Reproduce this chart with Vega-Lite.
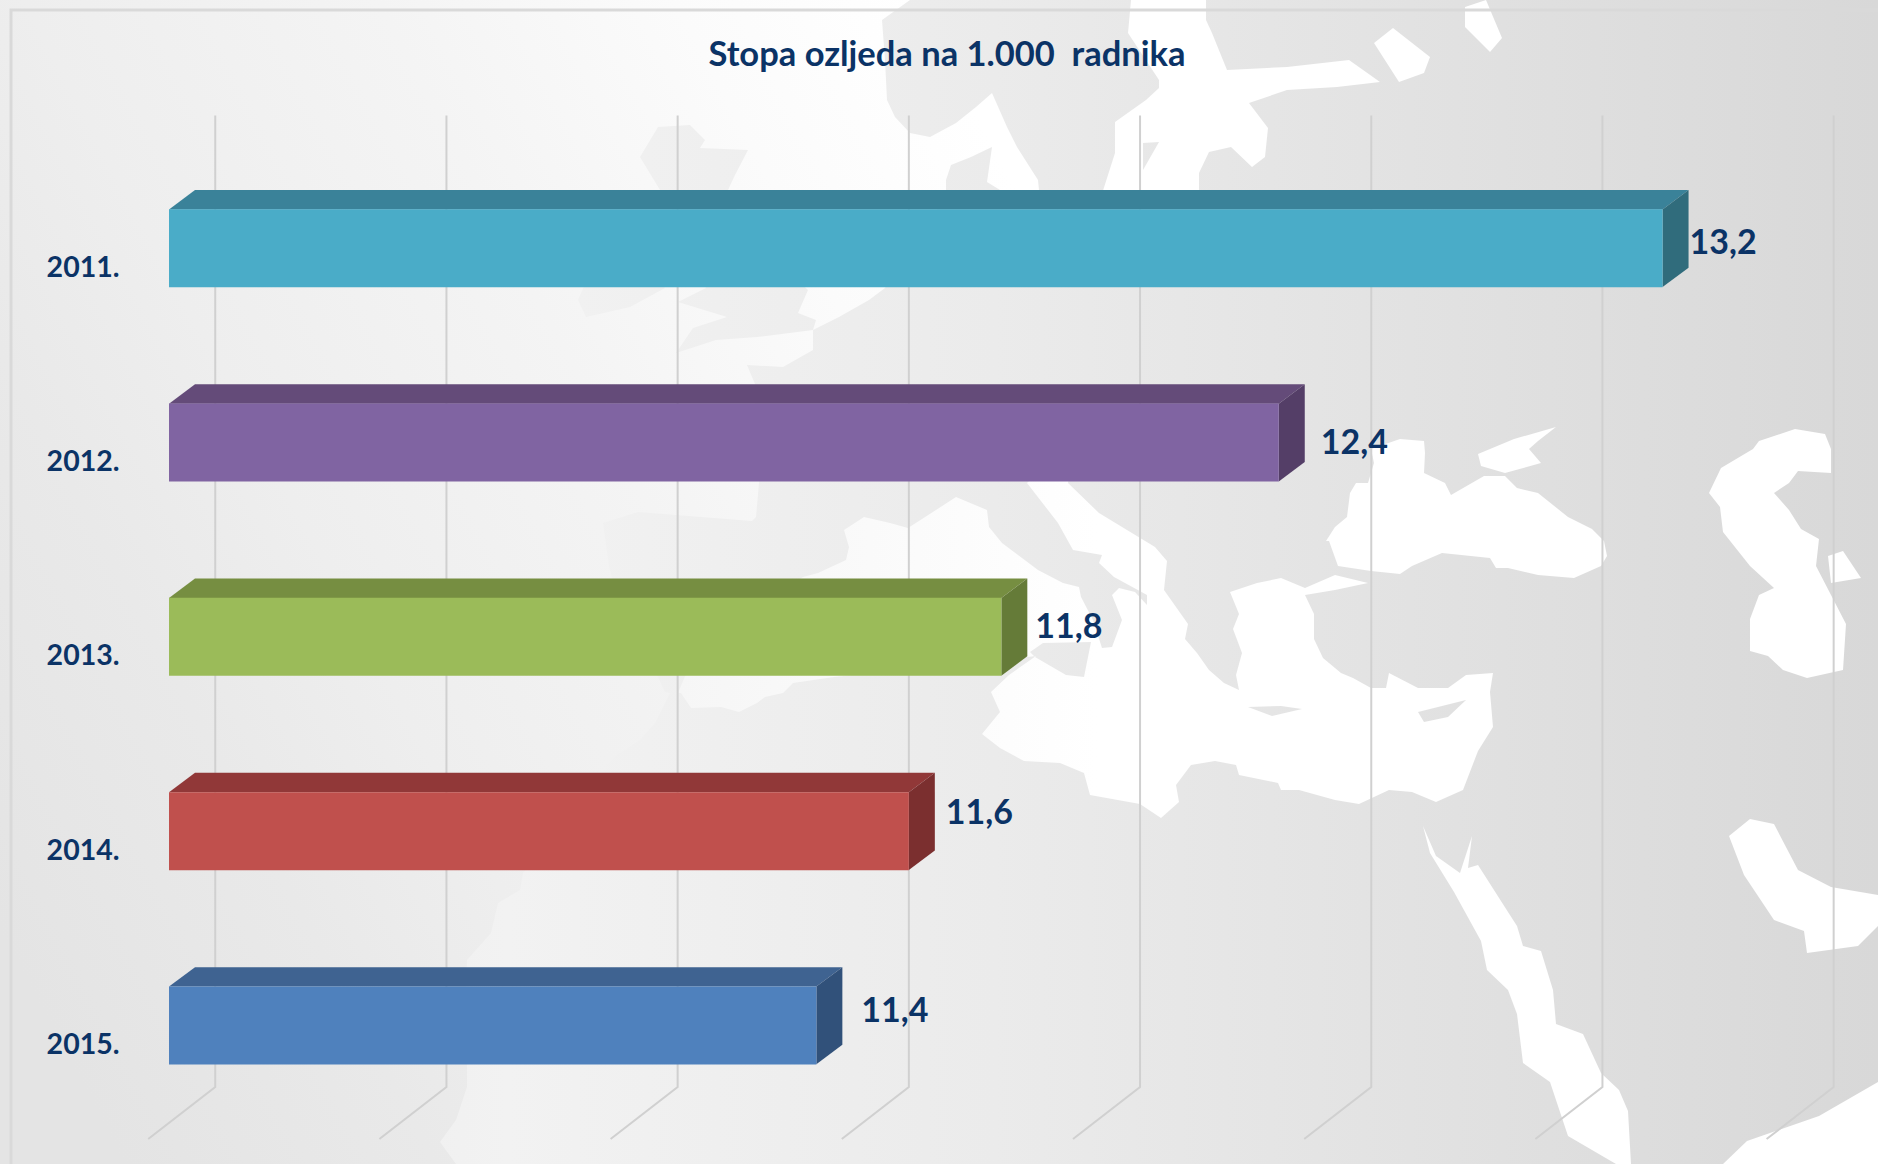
{
"$schema":"https://vega.github.io/schema/vega-lite/v6.json",
"width":1878,"height":1164,"padding":0,"autosize":{"type":"none"},
"background":"#eeeeee",
"title":{"text":"Stopa ozljeda na 1.000\u00a0 radnika","anchor":"middle","frame":"group","orient":"top","offset":-100,"dx":8,"baseline":"alphabetic","font":"Lato","fontWeight":"bold","fontSize":34.5,"color":"#0B3366"},
"config":{"view":{"stroke":null}},
"datasets":{
"bars":[
{"year":2011,"value":13.23,"label":"13,2","ploha":"2011 prednja"},
{"year":2012,"value":12.4,"label":"12,4","ploha":"2012 prednja"},
{"year":2013,"value":11.8,"label":"11,8","ploha":"2013 prednja"},
{"year":2014,"value":11.6,"label":"11,6","ploha":"2014 prednja"},
{"year":2015,"value":11.4,"label":"11,4","ploha":"2015 prednja"}],
"faces":[
{"ploha":"2011 gornja","x":10,"y":2010.8,"y2":2010.8},{"ploha":"2011 gornja","x":10.0562,"y":2010.8,"y2":2010.7},{"ploha":"2011 gornja","x":13.23,"y":2010.8,"y2":2010.7},{"ploha":"2011 gornja","x":13.2862,"y":2010.7,"y2":2010.7},
{"ploha":"2011 bočna","x":13.23,"y":2011.2,"y2":2010.8},{"ploha":"2011 bočna","x":13.2862,"y":2011.1,"y2":2010.7},
{"ploha":"2012 gornja","x":10,"y":2011.8,"y2":2011.8},{"ploha":"2012 gornja","x":10.0562,"y":2011.8,"y2":2011.7},{"ploha":"2012 gornja","x":12.4,"y":2011.8,"y2":2011.7},{"ploha":"2012 gornja","x":12.4562,"y":2011.7,"y2":2011.7},
{"ploha":"2012 bočna","x":12.4,"y":2012.2,"y2":2011.8},{"ploha":"2012 bočna","x":12.4562,"y":2012.1,"y2":2011.7},
{"ploha":"2013 gornja","x":10,"y":2012.8,"y2":2012.8},{"ploha":"2013 gornja","x":10.0562,"y":2012.8,"y2":2012.7},{"ploha":"2013 gornja","x":11.8,"y":2012.8,"y2":2012.7},{"ploha":"2013 gornja","x":11.8562,"y":2012.7,"y2":2012.7},
{"ploha":"2013 bočna","x":11.8,"y":2013.2,"y2":2012.8},{"ploha":"2013 bočna","x":11.8562,"y":2013.1,"y2":2012.7},
{"ploha":"2014 gornja","x":10,"y":2013.8,"y2":2013.8},{"ploha":"2014 gornja","x":10.0562,"y":2013.8,"y2":2013.7},{"ploha":"2014 gornja","x":11.6,"y":2013.8,"y2":2013.7},{"ploha":"2014 gornja","x":11.6562,"y":2013.7,"y2":2013.7},
{"ploha":"2014 bočna","x":11.6,"y":2014.2,"y2":2013.8},{"ploha":"2014 bočna","x":11.6562,"y":2014.1,"y2":2013.7},
{"ploha":"2015 gornja","x":10,"y":2014.8,"y2":2014.8},{"ploha":"2015 gornja","x":10.0562,"y":2014.8,"y2":2014.7},{"ploha":"2015 gornja","x":11.4,"y":2014.8,"y2":2014.7},{"ploha":"2015 gornja","x":11.4562,"y":2014.7,"y2":2014.7},
{"ploha":"2015 bočna","x":11.4,"y":2015.2,"y2":2014.8},{"ploha":"2015 bočna","x":11.4562,"y":2015.1,"y2":2014.7}],
"grid":[
{"g":0,"x":9.955,"y":2015.5846},{"g":0,"x":10.1,"y":2015.3169},{"g":0,"x":10.1,"y":2010.317},
{"g":1,"x":10.455,"y":2015.5846},{"g":1,"x":10.6,"y":2015.3169},{"g":1,"x":10.6,"y":2010.317},
{"g":2,"x":10.955,"y":2015.5846},{"g":2,"x":11.1,"y":2015.3169},{"g":2,"x":11.1,"y":2010.317},
{"g":3,"x":11.455,"y":2015.5846},{"g":3,"x":11.6,"y":2015.3169},{"g":3,"x":11.6,"y":2010.317},
{"g":4,"x":11.955,"y":2015.5846},{"g":4,"x":12.1,"y":2015.3169},{"g":4,"x":12.1,"y":2010.317},
{"g":5,"x":12.455,"y":2015.5846},{"g":5,"x":12.6,"y":2015.3169},{"g":5,"x":12.6,"y":2010.317},
{"g":6,"x":12.955,"y":2015.5846},{"g":6,"x":13.1,"y":2015.3169},{"g":6,"x":13.1,"y":2010.317},
{"g":7,"x":13.455,"y":2015.5846},{"g":7,"x":13.6,"y":2015.3169},{"g":7,"x":13.6,"y":2010.317}]
},
"layer":[
{"data":{"values":[{"type":"Feature","properties":{"name":"kopno"},"geometry":{"type":"Polygon","coordinates":[[[0,0],[1878,0],[1878,1164],[0,1164],[0,0]]]}}]},
"projection":{"type":"identity"},
"mark":{"type":"geoshape","stroke":null,"color":{"gradient":"linear","x1":0,"x2":1,"y1":0,"y2":0,"stops":[{"offset":0,"color":"#e7e7e7"},{"offset":0.27,"color":"#f2f2f2"},{"offset":0.53,"color":"#ebebeb"},{"offset":0.8,"color":"#e0e0e0"},{"offset":1,"color":"#d8d8d8"}]}}},
{"data":{"values":[{"type":"Feature","properties":{"name":"Atlantik"},"geometry":{"type":"Polygon","coordinates":[
[[0,0],[910,0],[882,20],[885,60],[887,100],[895,117],[910,133],[930,137],[956,123],[976,107],[992,93],[1007,127],[1017,147],[1038,180],[1040,200],[1000,200],[1000,190],[987,182],[992,147],[971,157],[951,165],[946,180],[946,200],[900,250],[885,288],[869,300],[839,317],[813,330],[813,350],[783,367],[747,365],[755,384],[755,420],[759,483],[756,517],[752,521],[701,517],[638,512],[603,523],[609,566],[612,578],[620,620],[658,677],[665,692],[670,693],[655,723],[640,740],[614,757],[604,770],[560,830],[523,873],[520,890],[498,903],[491,933],[467,960],[465,1010],[467,1067],[467,1087],[456,1120],[440,1142],[456,1164],[0,1164],[0,0]],
[[660,190],[690,240],[706,288],[678,302],[727,317],[693,328],[676,353],[716,340],[757,337],[813,330],[816,320],[798,313],[808,290],[745,230],[728,190],[735,175],[748,150],[700,148],[705,140],[690,125],[658,127],[640,157],[660,190]],
[[600,250],[578,300],[586,317],[630,307],[665,288],[620,240],[600,250]]
]}}]},
"projection":{"type":"identity"},
"mark":{"type":"geoshape","stroke":null,"color":{"gradient":"linear","x1":0,"x2":1,"y1":0.8,"y2":0.2,"stops":[{"offset":0,"color":"#e4e4e4"},{"offset":0.22,"color":"#e9e9e9"},{"offset":0.37,"color":"#eeeeee"},{"offset":0.62,"color":"#f4f4f4"},{"offset":0.83,"color":"#fbfbfb"},{"offset":1,"color":"#ffffff"}]}}},
{"data":{"values":[{"type":"Feature","properties":{"name":"mora"},"geometry":{"type":"MultiPolygon","coordinates":[
[[[678,693],[700,640],[803,577],[818,573],[846,560],[849,547],[844,530],[864,517],[890,523],[908,528],[936,510],[956,497],[987,510],[989,527],[1002,543],[1038,570],[1063,583],[1079,587],[1081,597],[1093,620],[1102,648],[1112,647],[1122,620],[1112,595],[1119,588],[1135,592],[1147,605],[1147,595],[1114,577],[1099,563],[1102,555],[1073,550],[1058,523],[1027,483],[1040,470],[1070,470],[1068,483],[1099,513],[1155,547],[1167,561],[1164,590],[1188,624],[1185,639],[1197,653],[1209,670],[1224,683],[1239,690],[1236,675],[1242,653],[1233,629],[1239,614],[1230,592],[1257,583],[1281,578],[1305,588],[1335,575],[1368,583],[1335,590],[1305,595],[1314,614],[1314,639],[1323,658],[1341,673],[1353,678],[1371,688],[1386,688],[1389,673],[1418,688],[1448,688],[1466,675],[1493,673],[1490,692],[1493,727],[1478,751],[1463,790],[1436,802],[1412,792],[1389,790],[1359,804],[1335,800],[1299,790],[1281,790],[1278,783],[1239,775],[1236,765],[1215,761],[1191,765],[1176,785],[1179,802],[1161,818],[1140,804],[1090,795],[1084,773],[1060,763],[1024,761],[1000,748],[982,734],[1000,712],[991,692],[1009,675],[1036,656],[1000,660],[834,677],[793,683],[783,693],[765,697],[757,703],[739,712],[721,707],[691,708],[681,693],[678,693]],
[[969,528],[971,547],[985,580],[990,640],[960,640],[950,590],[966,568],[956,560],[954,543],[969,528]],
[[1030,652],[1035,657],[1066,675],[1084,677],[1091,642],[1043,643],[1030,652]],
[[1248,707],[1272,716],[1302,709],[1281,706],[1248,707]],
[[1418,712],[1424,722],[1448,717],[1466,700],[1418,712]]],
[[[1326,541],[1335,527],[1347,517],[1350,493],[1356,483],[1368,483],[1374,463],[1371,449],[1400,439],[1424,441],[1425,453],[1424,473],[1445,483],[1451,495],[1484,476],[1505,476],[1517,488],[1538,493],[1568,517],[1592,529],[1604,541],[1607,556],[1601,566],[1574,578],[1538,575],[1508,568],[1496,568],[1490,558],[1442,553],[1412,566],[1400,574],[1371,571],[1338,566],[1329,541],[1326,541]]],
[[[1478,454],[1514,439],[1556,427],[1538,441],[1529,449],[1541,463],[1505,473],[1481,466],[1478,454]]],
[[[1709,493],[1721,468],[1753,449],[1759,441],[1795,429],[1825,434],[1831,449],[1831,473],[1798,471],[1789,483],[1774,493],[1789,510],[1801,529],[1819,539],[1816,566],[1831,595],[1846,624],[1843,670],[1807,678],[1783,670],[1768,656],[1750,651],[1750,619],[1759,595],[1774,588],[1750,566],[1723,532],[1720,507],[1709,493]]],
[[[1828,556],[1843,551],[1861,578],[1831,583],[1828,556]]],
[[[1423,826],[1436,856],[1460,873],[1472,836],[1468,868],[1478,865],[1508,912],[1517,926],[1523,946],[1541,951],[1553,990],[1556,1024],[1583,1034],[1601,1073],[1619,1090],[1628,1111],[1631,1164],[1616,1164],[1568,1136],[1550,1082],[1523,1063],[1517,1014],[1508,990],[1487,970],[1481,941],[1454,892],[1430,853],[1423,826]]],
[[[1729,836],[1750,819],[1774,824],[1798,870],[1831,887],[1878,895],[1878,926],[1858,946],[1807,953],[1804,931],[1774,920],[1744,875],[1729,836]]],
[[[1723,1164],[1747,1141],[1819,1116],[1878,1082],[1878,1164],[1723,1164]]],
[[[1131,0],[1206,0],[1206,20],[1212,33],[1227,70],[1287,67],[1349,60],[1380,82],[1337,87],[1287,90],[1249,103],[1268,128],[1265,157],[1252,167],[1231,147],[1209,152],[1199,173],[1199,200],[1100,200],[1115,153],[1115,122],[1146,100],[1159,88],[1159,80],[1128,33],[1131,0]],
[[1143,143],[1143,170],[1159,142],[1143,143]]],
[[[1393,28],[1430,57],[1424,73],[1399,82],[1374,43],[1393,28]]],
[[[1465,7],[1486,0],[1502,38],[1490,52],[1465,27],[1465,7]]]
]}}]},
"projection":{"type":"identity"},
"mark":{"type":"geoshape","stroke":null,"color":{"gradient":"linear","x1":0,"x2":1,"y1":0,"y2":0,"stops":[{"offset":0,"color":"#f6f6f6"},{"offset":0.2,"color":"#fbfbfb"},{"offset":0.35,"color":"#ffffff"},{"offset":1,"color":"#ffffff"}]}}},
{"data":{"values":[{"type":"Feature","properties":{"name":"okvir"},"geometry":{"type":"LineString","coordinates":[[1878,10],[11,10],[11,1164]]}}]},
"projection":{"type":"identity"},
"mark":{"type":"geoshape","filled":false,"stroke":"#d9d9d9","strokeWidth":3}},
{"data":{"name":"grid"},
"mark":{"type":"line","stroke":"#d0d0d0","strokeWidth":2,"interpolate":"linear"},
"encoding":{
"x":{"field":"x","type":"quantitative","scale":{"domain":[9.6345,13.6959],"nice":false,"zero":false,"padding":0},"axis":null},
"y":{"field":"y","type":"quantitative","sort":null,"scale":{"domain":[2009.7224,2015.7131],"reverse":true,"nice":false,"zero":false,"padding":0},"axis":{"orient":"left","offset":-119,"values":[2011,2012,2013,2014,2015],"labelExpr":"datum.value + '.'","title":null,"ticks":false,"domain":false,"grid":false,"labelFont":"Lato","labelFontWeight":"bold","labelFontSize":28.5,"labelColor":"#0B3366","labelPadding":0,"labelOffset":19,"labelBaseline":"middle","labelOverlap":false,"zindex":1}},
"detail":{"field":"g","type":"nominal"},
"order":{"field":"y","sort":"descending"}}},
{"data":{"name":"faces"},
"mark":{"type":"area","interpolate":"linear","clip":false},
"encoding":{
"x":{"field":"x","type":"quantitative"},
"y":{"field":"y","type":"quantitative","stack":null},
"y2":{"field":"y2"},
"color":{"field":"ploha","type":"nominal","legend":null,"scale":{"domain":["2011 prednja","2011 gornja","2011 bočna","2012 prednja","2012 gornja","2012 bočna","2013 prednja","2013 gornja","2013 bočna","2014 prednja","2014 gornja","2014 bočna","2015 prednja","2015 gornja","2015 bočna"],"range":["#4AACC8","#3A8299","#306C7C","#8064A2","#644B79","#543E67","#9BBB59","#768E41","#657B38","#C0504D","#913838","#7B2F2F","#4F81BD","#3F6391","#31517A"]}}}},
{"data":{"name":"bars"},
"mark":{"type":"bar","orient":"horizontal","size":78},
"encoding":{
"x":{"field":"value","type":"quantitative"},
"x2":{"datum":10},
"y":{"field":"year","type":"quantitative"},
"color":{"field":"ploha","type":"nominal"}}},
{"data":{"name":"bars"},"transform":[{"filter":"datum.year === 2011"}],
"mark":{"type":"text","align":"left","baseline":"middle","dx":27,"dy":-4,"font":"Lato","fontWeight":"bold","fontSize":34,"color":"#0B3366"},
"encoding":{"x":{"field":"value","type":"quantitative"},"y":{"field":"year","type":"quantitative"},"text":{"field":"label"}}},
{"data":{"name":"bars"},"transform":[{"filter":"datum.year === 2012"}],
"mark":{"type":"text","align":"left","baseline":"middle","dx":42,"dy":1,"font":"Lato","fontWeight":"bold","fontSize":34,"color":"#0B3366"},
"encoding":{"x":{"field":"value","type":"quantitative"},"y":{"field":"year","type":"quantitative"},"text":{"field":"label"}}},
{"data":{"name":"bars"},"transform":[{"filter":"datum.year === 2013"}],
"mark":{"type":"text","align":"left","baseline":"middle","dx":34,"dy":-8.5,"font":"Lato","fontWeight":"bold","fontSize":34,"color":"#0B3366"},
"encoding":{"x":{"field":"value","type":"quantitative"},"y":{"field":"year","type":"quantitative"},"text":{"field":"label"}}},
{"data":{"name":"bars"},"transform":[{"filter":"datum.year === 2014"}],
"mark":{"type":"text","align":"left","baseline":"middle","dx":37,"dy":-17,"font":"Lato","fontWeight":"bold","fontSize":34,"color":"#0B3366"},
"encoding":{"x":{"field":"value","type":"quantitative"},"y":{"field":"year","type":"quantitative"},"text":{"field":"label"}}},
{"data":{"name":"bars"},"transform":[{"filter":"datum.year === 2015"}],
"mark":{"type":"text","align":"left","baseline":"middle","dx":45,"dy":-13,"font":"Lato","fontWeight":"bold","fontSize":34,"color":"#0B3366"},
"encoding":{"x":{"field":"value","type":"quantitative"},"y":{"field":"year","type":"quantitative"},"text":{"field":"label"}}}
]
}
